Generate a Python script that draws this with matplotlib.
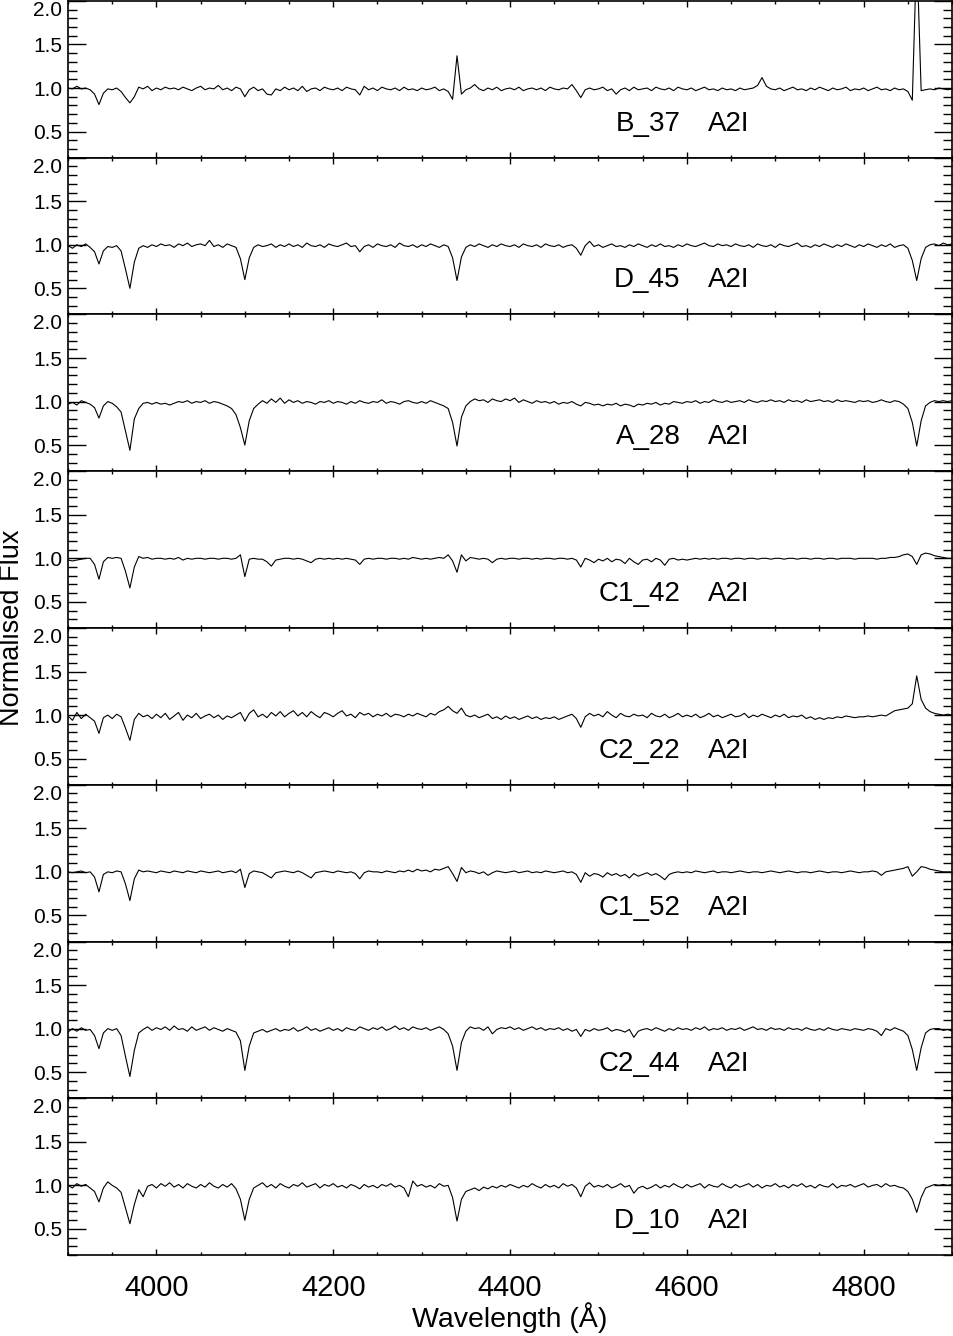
"""
Stack of normalised A2I supergiant spectra, one panel per star,
shared wavelength axis (3900-4900 A).
"""

import numpy as np
import matplotlib
matplotlib.use("Agg")
import matplotlib.pyplot as plt
from matplotlib.ticker import MultipleLocator

plt.rcParams['font.family'] = ['Liberation Sans', 'DejaVu Sans']

# ─── data: flux sampled every 5 A from 3900 to 4900 ──────────────────────────
WAVE = np.arange(3900, 4901, 5)

STARS = ["B_37", "D_45", "A_28", "C1_42", "C2_22", "C1_52", "C2_44", "D_10"]
SPTYPE = "A2I"

FLUX_B37 = [
    1.00, 0.99, 1.02, 0.99, 1.00, 0.98, 0.93, 0.81, 0.94, 0.99,
    0.98, 1.00, 0.96, 0.89, 0.83, 0.90, 1.01, 0.99, 1.02, 0.97,
    1.00, 0.98, 1.01, 0.99, 1.00, 0.98, 1.01, 0.99, 0.97, 1.00,
    1.02, 0.98, 1.00, 0.99, 1.03, 0.98, 1.00, 0.97, 1.01, 0.99,
    0.90, 0.98, 1.01, 0.97, 0.99, 0.93, 0.92, 0.99, 0.97, 1.01,
    0.98, 1.00, 0.97, 1.02, 0.96, 0.99, 1.00, 0.97, 1.01, 0.99,
    0.98, 1.00, 0.97, 1.01, 0.99, 0.98, 0.92, 1.02, 0.98, 1.00,
    0.97, 1.01, 0.99, 0.98, 1.00, 0.97, 1.01, 0.98, 0.99, 0.97,
    1.00, 0.98, 0.99, 1.01, 0.97, 0.99, 0.96, 0.87, 1.37, 0.93,
    0.98, 1.00, 1.04, 0.99, 0.97, 1.00, 0.98, 1.01, 0.97, 0.99,
    1.00, 0.98, 1.01, 0.97, 0.99, 1.00, 0.98, 1.00, 0.97, 1.01,
    0.99, 0.98, 1.00, 0.99, 1.04, 0.97, 0.89, 0.98, 1.00, 0.98,
    0.99, 1.01, 0.97, 0.99, 0.93, 0.98, 1.00, 0.97, 1.01, 0.98,
    0.99, 1.00, 0.97, 1.01, 0.99, 0.98, 1.00, 0.97, 1.01, 0.99,
    0.98, 1.00, 0.97, 0.99, 1.01, 0.98, 0.99, 0.97, 1.00, 0.98,
    0.99, 0.97, 1.00, 0.98, 0.99, 1.00, 1.03, 1.12, 1.02, 0.99,
    0.98, 1.00, 0.97, 0.99, 1.01, 0.98, 0.99, 0.97, 1.00, 0.98,
    1.01, 0.99, 0.97, 1.00, 0.98, 0.99, 1.01, 0.97, 0.99, 0.98,
    1.00, 0.97, 0.99, 1.01, 0.98, 0.99, 0.97, 1.00, 0.98, 0.99,
    0.96, 0.86, 2.60, 0.97, 0.98, 0.99, 0.98, 1.00, 0.99, 0.98,
    0.99,
]

FLUX_D45 = [
    0.99, 0.96, 1.00, 0.98, 1.01, 0.97, 0.92, 0.78, 0.93, 0.98,
    0.97, 0.99, 0.93, 0.72, 0.50, 0.80, 0.96, 0.99, 0.97, 1.00,
    0.98, 1.01, 0.99, 1.00, 0.97, 1.01, 0.99, 1.02, 0.98, 1.00,
    1.01, 0.99, 1.05, 0.98, 1.00, 0.97, 1.01, 0.99, 0.97, 0.84,
    0.60, 0.85, 0.97, 1.00, 0.98, 0.99, 1.01, 0.97, 1.00, 0.98,
    1.01, 0.98, 1.00, 0.97, 1.02, 0.99, 0.98, 1.00, 0.97, 1.01,
    0.99, 0.98, 1.00, 1.02, 0.98, 0.99, 0.92, 0.98, 1.00, 0.97,
    1.01, 0.99, 0.98, 1.00, 0.97, 1.02, 0.99, 0.98, 1.00, 0.97,
    1.00, 0.98, 1.01, 0.99, 0.97, 1.00, 0.98, 0.85, 0.59, 0.86,
    0.97, 1.00, 0.98, 1.01, 0.99, 0.97, 1.00, 0.98, 1.01, 0.99,
    0.98, 1.00, 0.97, 1.01, 0.99, 0.98, 1.00, 0.97, 1.01, 0.99,
    0.98, 1.00, 0.97, 0.99, 1.00, 0.96, 0.88, 0.99, 1.04, 0.98,
    1.00, 0.97, 0.99, 1.01, 0.98, 0.99, 0.97, 1.00, 0.98, 1.01,
    0.99, 0.97, 1.00, 0.98, 1.01, 0.98, 0.99, 0.97, 1.00, 0.98,
    1.01, 0.99, 0.98, 1.00, 1.02, 0.99, 0.98, 1.01, 0.99, 1.00,
    0.98, 1.01, 0.99, 0.98, 1.00, 0.97, 1.01, 0.99, 0.98, 1.00,
    0.97, 1.01, 0.99, 0.98, 1.00, 1.02, 0.98, 0.99, 0.97, 1.00,
    0.98, 1.01, 0.99, 0.97, 1.00, 0.98, 1.01, 0.99, 0.97, 1.00,
    0.98, 1.01, 0.99, 0.97, 1.00, 0.98, 1.01, 0.97, 0.99, 1.00,
    0.96, 0.82, 0.59, 0.84, 0.97, 1.00, 1.01, 0.99, 1.02, 1.00,
    1.01,
]

FLUX_A28 = [
    0.97, 0.99, 0.96, 1.01, 0.99, 0.97, 0.93, 0.81, 0.95, 1.00,
    0.98, 0.94, 0.88, 0.66, 0.44, 0.80, 0.92, 0.98, 0.99, 0.97,
    0.99, 0.97, 0.98, 0.96, 0.98, 1.00, 0.99, 1.01, 0.98, 1.00,
    0.99, 1.01, 0.98, 1.00, 0.99, 0.97, 0.95, 0.92, 0.85, 0.70,
    0.50, 0.78, 0.92, 0.97, 1.01, 0.98, 1.03, 0.99, 1.04, 0.98,
    1.02, 0.99, 1.01, 0.98, 1.00, 0.99, 0.97, 1.00, 0.99, 1.01,
    0.98, 1.00, 0.99, 0.97, 1.00, 0.98, 1.01, 0.99, 0.98, 1.00,
    0.99, 1.02, 0.98, 1.00, 0.99, 0.97, 1.00, 1.01, 0.99, 0.98,
    1.00, 0.98, 1.01, 0.99, 0.97, 0.95, 0.92, 0.76, 0.49, 0.82,
    0.95, 1.00, 1.03, 1.01, 1.02, 0.99, 1.03, 1.01, 1.00, 1.03,
    1.01, 1.04, 0.99, 1.02, 1.00, 0.98, 1.01, 0.99, 1.00, 0.98,
    1.00, 0.97, 0.99, 0.98, 1.00, 0.97, 0.95, 0.99, 0.98, 0.96,
    0.97, 0.95, 0.97, 0.96, 0.98, 0.95, 0.97, 0.96, 0.94, 0.97,
    0.96, 0.98, 0.97, 0.99, 0.96, 0.98, 0.97, 1.00, 0.99, 0.98,
    1.00, 0.99, 1.01, 0.98, 1.00, 0.99, 1.02, 1.00, 0.99, 1.01,
    0.99, 1.00, 1.01, 0.99, 1.02, 1.00, 0.99, 1.01, 1.00, 1.02,
    1.00, 1.01, 0.99, 1.02, 1.00, 1.01, 0.99, 1.02, 1.00, 1.01,
    1.02, 1.00, 1.01, 0.99, 1.02, 1.00, 1.01, 1.00, 0.99, 1.01,
    1.00, 1.01, 0.99, 1.00, 1.02, 1.00, 0.99, 1.01, 1.00, 0.97,
    0.92, 0.76, 0.49, 0.78, 0.95, 0.99, 1.01, 1.00, 1.01, 1.00,
    1.01,
]

FLUX_C142 = [
    0.98, 0.97, 0.98, 0.99, 1.00, 1.00, 0.93, 0.76, 0.96, 1.01,
    1.00, 1.01, 1.00, 0.85, 0.66, 0.90, 1.02, 1.00, 1.01, 0.99,
    1.00, 1.00, 0.99, 1.00, 0.99, 1.01, 0.98, 1.00, 0.99, 1.00,
    1.00, 0.99, 1.00, 1.00, 0.99, 1.00, 1.00, 0.99, 1.00, 1.04,
    0.79, 0.99, 1.00, 0.99, 0.99, 0.96, 0.91, 0.98, 0.99, 1.00,
    1.00, 0.99, 1.00, 0.99, 0.97, 0.95, 0.99, 1.00, 0.99, 1.00,
    0.99, 1.00, 0.99, 1.00, 0.99, 0.98, 0.93, 0.99, 1.00, 0.99,
    1.00, 1.00, 0.99, 1.00, 1.00, 0.99, 1.00, 0.99, 1.01, 1.00,
    0.99, 1.00, 0.99, 1.00, 1.01, 1.00, 1.04, 0.97, 0.84, 1.04,
    0.97, 1.01, 1.00, 0.99, 1.00, 0.99, 0.95, 0.99, 1.00, 0.99,
    1.00, 1.00, 0.99, 1.00, 1.00, 0.99, 1.00, 0.99, 1.00, 1.00,
    0.99, 1.00, 1.00, 0.99, 1.00, 0.98, 0.90, 1.00, 0.98, 0.95,
    0.99, 0.97, 1.00, 0.96, 0.99, 0.98, 0.94, 1.00, 0.96, 0.93,
    0.98, 0.99, 0.96, 1.00, 0.98, 0.92, 0.99, 1.00, 0.98, 0.99,
    0.98, 0.99, 1.00, 0.99, 1.00, 0.99, 1.00, 0.99, 1.00, 1.00,
    0.99, 1.00, 1.00, 0.99, 1.00, 1.00, 0.99, 1.00, 1.00, 0.99,
    1.00, 1.00, 0.99, 1.00, 1.00, 0.99, 1.00, 1.00, 0.99, 1.00,
    1.00, 0.99, 1.00, 1.00, 0.99, 1.00, 1.00, 1.00, 0.99, 1.00,
    1.00, 1.00, 1.00, 0.99, 1.00, 1.00, 1.01, 1.01, 1.02, 1.04,
    1.05, 1.02, 0.93, 1.04, 1.06, 1.05, 1.03, 1.02, 1.01, 1.00,
    1.00,
]

FLUX_C222 = [
    0.99, 0.94, 1.03, 0.96, 1.01, 0.97, 0.93, 0.79, 0.97, 1.00,
    0.96, 1.01, 0.98, 0.85, 0.71, 0.95, 1.02, 0.98, 1.00, 0.96,
    1.01, 0.97, 1.02, 0.95, 0.99, 1.03, 0.94, 1.00, 0.97, 1.02,
    0.96, 0.99, 1.01, 0.97, 1.00, 0.95, 0.99, 0.97, 1.00, 1.03,
    0.93, 1.02, 1.06, 0.98, 1.01, 0.97, 1.03, 0.99, 1.04, 0.98,
    1.02, 1.05, 0.99, 1.03, 0.98, 1.04, 1.00, 0.97, 1.03, 1.01,
    0.98, 1.02, 1.05, 0.99, 1.01, 0.97, 1.03, 1.00, 1.02, 0.98,
    1.01, 0.99, 1.02, 0.98, 1.01, 1.00, 0.98, 1.01, 0.99, 1.02,
    1.00, 0.98, 1.02, 1.00, 1.04, 1.06, 1.10, 1.05, 1.02, 1.08,
    1.00, 0.98, 1.00, 0.97, 0.99, 1.01, 0.96, 0.98, 0.95, 0.99,
    0.96, 0.98, 0.95, 0.97, 0.99, 0.96, 0.98, 0.95, 0.97, 0.96,
    0.98, 0.95, 0.97, 0.99, 1.01, 0.96, 0.86, 0.98, 1.02, 0.99,
    1.01, 0.98, 1.04, 1.00, 0.97, 1.02, 0.99, 0.98, 1.01, 0.99,
    1.00, 0.97, 1.02, 0.99, 0.98, 1.01, 0.97, 0.99, 1.02, 0.98,
    1.00, 0.98, 1.01, 0.97, 0.99, 1.02, 0.98, 1.00, 0.97, 0.99,
    1.01, 0.98, 0.99, 1.02, 0.97, 1.00, 0.98, 1.01, 0.99, 0.97,
    1.00, 0.98, 1.01, 0.97, 0.99, 0.98, 1.00, 0.96, 0.98, 0.95,
    0.97, 0.95, 0.97, 0.96, 0.98, 0.97, 0.99, 0.98, 0.97, 0.98,
    0.98, 0.99, 0.98, 0.99, 1.00, 0.99, 1.02, 1.05, 1.06, 1.07,
    1.08, 1.13, 1.45, 1.18, 1.08, 1.04, 1.02, 1.01, 1.00, 1.01,
    1.00,
]

FLUX_C152 = [
    1.00, 0.99, 1.00, 1.01, 0.99, 1.00, 0.94, 0.77, 0.97, 1.00,
    0.99, 1.01, 1.00, 0.86, 0.67, 0.92, 1.02, 1.00, 1.01, 1.00,
    0.99, 1.01, 1.00, 0.99, 1.01, 1.00, 0.99, 1.01, 1.00, 0.99,
    1.01, 1.00, 0.99, 1.00, 1.01, 0.99, 1.00, 1.01, 0.99, 1.03,
    0.82, 0.98, 1.01, 1.00, 0.99, 0.96, 0.93, 0.99, 1.00, 1.01,
    1.00, 0.99, 1.01, 0.99, 0.96, 0.93, 0.99, 1.00, 1.01, 1.00,
    0.99, 1.01, 1.00, 0.99, 1.00, 0.98, 0.92, 0.99, 1.01, 1.00,
    1.00, 0.99, 1.01, 1.00, 0.99, 1.01, 1.00, 1.02, 1.00, 1.03,
    1.01, 1.02, 1.00, 1.03, 1.02, 1.04, 1.06, 0.98, 0.89, 1.05,
    0.99, 1.01, 1.00, 0.98, 1.00, 0.96, 0.99, 1.01, 1.00, 0.99,
    1.00, 1.01, 0.99, 1.00, 1.01, 0.99, 1.00, 0.99, 1.01, 1.00,
    0.99, 1.00, 1.01, 0.99, 1.00, 0.97, 0.88, 0.99, 0.95, 0.98,
    0.97, 0.94, 0.99, 0.96, 0.98, 0.95, 0.97, 0.93, 0.98, 0.95,
    0.97, 0.99, 0.96, 0.98, 0.95, 0.91, 0.97, 0.99, 1.00, 0.99,
    1.00, 0.99, 1.01, 1.00, 0.99, 1.00, 1.01, 0.99, 1.00, 1.00,
    0.99, 1.00, 1.01, 1.00, 0.99, 1.00, 1.00, 0.99, 1.00, 1.01,
    1.00, 0.99, 1.00, 1.01, 1.00, 0.99, 1.00, 1.00, 0.99, 1.00,
    1.01, 1.00, 0.99, 1.00, 1.00, 0.99, 1.00, 1.01, 1.00, 0.99,
    1.00, 1.00, 1.01, 1.00, 0.96, 1.00, 1.01, 1.02, 1.03, 1.04,
    1.06, 0.95, 1.00, 1.06, 1.05, 1.03, 1.02, 1.01, 1.00, 1.00,
    1.00,
]

FLUX_C244 = [
    0.96, 1.00, 0.97, 1.01, 0.98, 0.99, 0.92, 0.77, 0.95, 1.00,
    0.98, 1.00, 0.92, 0.68, 0.45, 0.75, 0.95, 0.99, 1.02, 0.98,
    1.01, 0.99, 1.02, 0.98, 1.03, 0.99, 1.00, 0.97, 1.02, 0.98,
    1.00, 1.02, 0.98, 1.01, 0.99, 0.97, 1.00, 0.98, 0.96, 0.86,
    0.52, 0.80, 0.95, 0.97, 0.99, 0.96, 0.98, 1.00, 0.97, 0.99,
    0.98, 1.01, 0.97, 0.99, 1.02, 0.98, 1.00, 0.97, 0.99, 1.01,
    0.98, 1.00, 0.97, 1.01, 0.99, 0.98, 1.02, 1.00, 0.98, 1.01,
    0.99, 1.02, 0.98, 1.00, 1.03, 0.99, 1.01, 0.98, 1.02, 1.00,
    0.99, 1.01, 0.98, 1.00, 1.02, 0.99, 0.94, 0.80, 0.52, 0.84,
    0.97, 1.02, 1.00, 1.01, 0.98, 1.02, 0.94, 0.99, 1.01, 1.00,
    1.02, 0.99, 1.01, 0.98, 1.00, 1.02, 0.99, 1.01, 0.98, 1.00,
    0.99, 1.01, 0.98, 1.00, 0.97, 0.99, 0.91, 0.99, 0.97, 1.00,
    0.98, 0.99, 1.01, 0.97, 0.99, 0.98, 0.96, 0.99, 0.90, 0.97,
    0.99, 1.00, 0.98, 1.01, 0.99, 0.97, 1.00, 0.98, 1.01, 0.99,
    1.00, 0.98, 1.01, 0.99, 1.02, 0.98, 1.00, 0.99, 1.01, 0.98,
    1.00, 0.99, 1.01, 0.98, 1.00, 1.02, 0.99, 1.00, 0.98, 1.01,
    0.99, 1.00, 0.98, 1.01, 0.99, 1.00, 0.98, 1.01, 0.99, 0.98,
    1.00, 0.98, 1.01, 0.99, 0.98, 1.00, 0.99, 0.98, 1.00, 0.99,
    0.98, 1.00, 0.99, 0.97, 0.92, 1.00, 0.98, 1.01, 0.99, 0.97,
    0.92, 0.76, 0.52, 0.78, 0.95, 0.99, 1.00, 1.00, 0.98, 0.99,
    0.97,
]

FLUX_D10 = [
    1.00, 0.97, 1.02, 0.99, 1.01, 0.97, 0.93, 0.81, 0.97, 1.04,
    1.00, 0.97, 0.92, 0.74, 0.56, 0.78, 0.95, 0.87, 0.99, 1.01,
    0.97, 1.02, 0.99, 1.03, 0.98, 1.01, 0.97, 1.02, 0.99, 0.97,
    1.01, 0.98, 1.03, 0.99, 0.97, 1.01, 0.98, 1.02, 0.96, 0.84,
    0.60, 0.84, 0.97, 1.00, 1.03, 0.98, 1.01, 0.97, 1.02, 0.99,
    0.97, 1.01, 0.99, 1.03, 0.98, 1.00, 1.02, 0.97, 1.01, 0.99,
    1.02, 0.98, 1.00, 0.97, 1.01, 0.99, 0.96, 1.01, 0.98, 1.00,
    0.97, 1.01, 0.99, 1.02, 0.98, 1.00, 0.97, 0.87, 1.05, 0.99,
    1.01, 0.98, 1.00, 0.97, 1.02, 0.99, 1.00, 0.86, 0.59, 0.84,
    0.93, 0.95, 0.97, 0.94, 0.98, 0.96, 0.99, 0.97, 1.00, 0.98,
    1.01, 0.99, 0.97, 1.00, 0.98, 1.02, 0.99, 0.97, 1.01, 0.98,
    1.00, 0.97, 1.02, 0.99, 1.01, 0.97, 0.87, 0.99, 1.03, 0.98,
    1.00, 0.98, 1.01, 0.97, 0.99, 1.02, 0.98, 1.00, 0.91, 0.97,
    0.99, 0.96, 0.98, 1.01, 0.97, 1.00, 0.98, 1.02, 0.99, 0.97,
    1.01, 0.98, 1.00, 1.02, 0.97, 1.01, 0.99, 0.98, 1.02, 0.99,
    0.97, 1.01, 0.98, 1.00, 1.02, 0.98, 1.01, 0.97, 1.00, 0.99,
    1.02, 0.98, 1.00, 0.97, 1.01, 0.99, 1.02, 0.98, 1.00, 0.97,
    1.01, 0.99, 0.98, 1.02, 0.97, 1.00, 0.99, 1.01, 0.98, 1.00,
    1.02, 0.98, 1.00, 1.01, 0.98, 1.02, 0.99, 1.00, 0.98, 0.97,
    0.93, 0.84, 0.69, 0.86, 0.97, 0.99, 1.01, 1.00, 1.01, 1.00,
    1.01,
]

SPECTRA = [FLUX_B37, FLUX_D45, FLUX_A28, FLUX_C142,
           FLUX_C222, FLUX_C152, FLUX_C244, FLUX_D10]

YTICKS = [0.5, 1.0, 1.5, 2.0]
YTICKLABELS = ["0.5", "1.0", "1.5", "2.0"]
# ──────────────────────────────────────────────────────────────────────────────


def main():
    fig, axes = plt.subplots(len(STARS), 1, sharex=True,
                             figsize=(9.54, 13.36), dpi=100)
    fig.subplots_adjust(left=0.0713, right=0.998, top=0.9993,
                        bottom=0.0606, hspace=0)

    for ax, name, flux in zip(axes, STARS, SPECTRA):
        ax.plot(WAVE, flux, color='black', linewidth=0.8)

        ax.set_xlim(3900, 4900)
        ax.set_ylim(0.2, 2.0)
        ax.set_yticks(YTICKS)
        ax.set_yticklabels(YTICKLABELS)
        ax.yaxis.set_minor_locator(MultipleLocator(0.1))
        ax.xaxis.set_major_locator(MultipleLocator(200))
        ax.xaxis.set_minor_locator(MultipleLocator(50))

        ax.tick_params(which='both', direction='in', top=True, right=True,
                       color='black')
        ax.tick_params(axis='y', which='major', length=13, width=1.0,
                       labelsize=15, pad=4)
        ax.tick_params(axis='y', which='minor', length=6.5, width=1.0)
        ax.tick_params(axis='x', which='major', length=4, width=1.0,
                       labelsize=21, pad=14)
        ax.tick_params(axis='x', which='minor', length=2, width=1.0)
        # top label sits just under the panel edge, as in the original
        ax.get_yticklabels()[-1].set_verticalalignment('top')

        for spine in ax.spines.values():
            spine.set_linewidth(1.2)

        ax.text(4593, 0.51, name, ha='right', va='baseline', fontsize=20)
        ax.text(4624, 0.51, SPTYPE, ha='left', va='baseline', fontsize=20)

    axes[-1].set_xlabel('Wavelength (Å)', fontsize=20.5)
    axes[-1].xaxis.set_label_coords(0.5, -0.40)
    axes[-1].xaxis.label.set_verticalalignment('center')

    fig.text(0.0126, 0.530, 'Normalised Flux', rotation=90,
             ha='center', va='center', fontsize=19.5)

    fig.savefig('out.png', dpi=100)


if __name__ == '__main__':
    main()
